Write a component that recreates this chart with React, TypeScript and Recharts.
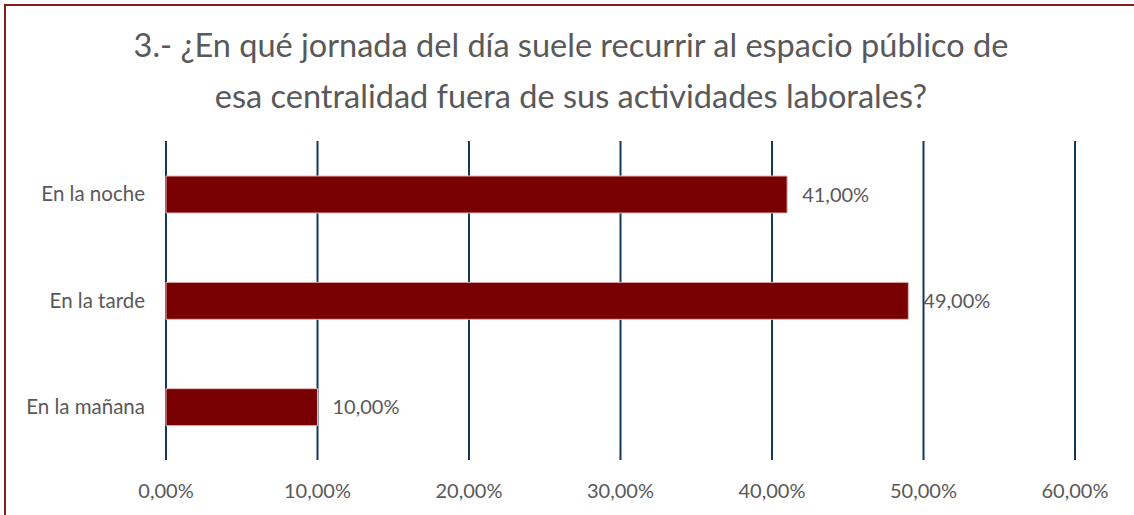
import { BarChart, Bar, XAxis, YAxis, CartesianGrid, LabelList } from 'recharts'

const categories = ['En la noche', 'En la tarde', 'En la mañana']
const values = [41, 49, 10]
const xTicks = [0, 10, 20, 30, 40, 50, 60]
const titleLines = [
  '3.- ¿En qué jornada del día suele recurrir al espacio público de',
  'esa centralidad fuera de sus actividades laborales?',
]

const data = categories.map((name, i) => ({ name, value: values[i] }))

const pct = (v: number) => v.toFixed(2).replace('.', ',') + '%'
const font = 'Lato, "Open Sans", sans-serif'
const textColor = '#595959'

export default function App() {
  return (
    <div style={{ position: 'fixed', left: 0, top: 0, width: 1134, height: 515, overflow: 'hidden', background: '#fff', fontFamily: font }}>
      <div style={{ position: 'absolute', left: 4, top: 4, width: 1200, height: 600, border: '2px solid #8b1a1a', boxSizing: 'border-box' }} />
      <div style={{ position: 'absolute', left: 0, top: 19, width: 1142, textAlign: 'center', fontSize: 32.5, lineHeight: '51px', color: textColor }}>
        {titleLines.map((t) => (
          <div key={t}>{t}</div>
        ))}
      </div>
      <div style={{ position: 'absolute', left: 0, top: 0 }}>
        <BarChart
          width={1134}
          height={515}
          data={data}
          layout="vertical"
          margin={{ top: 141, right: 59, bottom: 0, left: 0 }}
          barSize={37}
        >
          <CartesianGrid horizontal={false} stroke="#14375a" strokeWidth={2} />
          <XAxis
            type="number"
            domain={[0, 60]}
            ticks={xTicks}
            tickFormatter={pct}
            height={55}
            axisLine={false}
            tickLine={false}
            tickSize={0}
            tickMargin={24}
            tick={{ fill: textColor, fontSize: 20, fontFamily: font }}
          />
          <YAxis
            type="category"
            dataKey="name"
            width={166}
            axisLine={false}
            tickLine={false}
            tickSize={0}
            tickMargin={21}
            tick={{ fill: textColor, fontSize: 20.5, fontFamily: font }}
          />
          <Bar dataKey="value" fill="#780000" stroke="#e2b8b8" strokeWidth={1} isAnimationActive={false}>
            <LabelList dataKey="value" position="right" offset={15} formatter={(v: any) => pct(Number(v))} fill={textColor} fontSize={20} fontFamily={font} />
          </Bar>
        </BarChart>
      </div>
    </div>
  )
}
